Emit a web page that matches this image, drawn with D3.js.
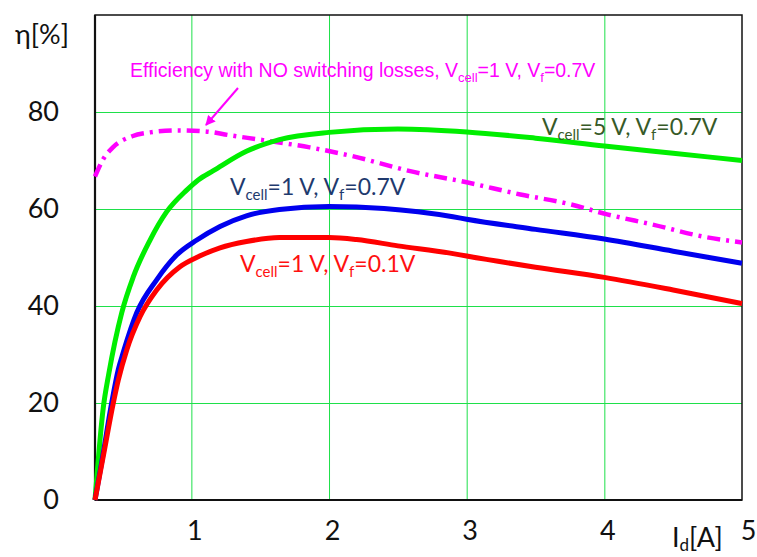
<!DOCTYPE html>
<html><head><meta charset="utf-8">
<script src="https://cdn.jsdelivr.net/npm/d3@7"></script>
<style>
body{margin:0;background:#fff;}
svg{display:block;}
</style></head>
<body>
<svg id="chart" width="757" height="557"></svg>
<script>
// ---- data ----
const xTicks = [1, 2, 3, 4, 5];
const yTicks = [0, 20, 40, 60, 80];
const gridX = [1, 2, 3, 4];
const gridY = [20, 40, 60, 80];

const greenX = [0.3,0.36,0.40,0.494,0.578,0.70,0.82,0.966,1.05,1.16,1.4,1.64,2.0,2.5,3.0,3.5,4.0,4.5,5.0];
const greenY = [0,19,26,38.6,46,53.6,59.4,63.9,66,67.9,71.9,74.3,75.8,76.5,75.9,74.6,73.0,71.5,70.0];

const blueX = [0.3,0.35,0.421,0.47,0.506,0.603,0.748,0.893,1.04,1.208,1.4,1.64,2.0,2.4,2.9,3.0,3.5,4.0,4.5,5.0];
const blueY = [0,8,20,27,30.5,38.6,45.4,50.5,53.6,56.4,58.6,59.9,60.5,60.1,58.4,57.9,55.8,53.8,51.3,48.8];

const redX = [0.3,0.36,0.433,0.469,0.53,0.627,0.748,0.917,1.06,1.208,1.4,1.64,2.0,2.2,2.5,2.88,3.0,3.5,4.0,4.5,5.0];
const redY = [0,9,20,24.7,30.9,37.8,43.3,48.1,50.3,52,53.3,54.1,54.1,53.7,52.4,50.9,50.3,48.0,45.9,43.3,40.5];

const magX = [0.3,0.358,0.43,0.57,0.7,0.9,1.1,1.28,1.52,1.86,2.17,2.59,3.0,3.39,3.75,4.02,4.35,4.72,5.0];
const magY = [66.7,70.2,72.7,75.0,75.8,76.2,76.0,75.2,74.2,72.7,70.9,67.8,65.5,63.0,61.0,58.9,56.8,54.3,53.1];

// ---- layout ----
const svg = d3.select("#chart");
const pLeft = 95, pRight = 742, pTop = 15, pBottom = 500;
const x = d3.scaleLinear().domain([0.3, 5]).range([pLeft, pRight]);
const y = d3.scaleLinear().domain([0, 100]).range([pBottom, pTop]);

const calibri = "Lato, 'Open Sans', sans-serif";
const arial = "'Liberation Sans', Arial, sans-serif";

// gridlines
svg.append("g").attr("transform", `translate(0,${pBottom})`)
  .call(d3.axisBottom(x).tickValues(gridX).tickSize(-(pBottom - pTop)).tickFormat(""))
  .call(g => g.select(".domain").remove())
  .call(g => g.selectAll("line").attr("stroke", "#1ee04a").attr("stroke-width", 1));
svg.append("g").attr("transform", `translate(${pLeft},0)`)
  .call(d3.axisLeft(y).tickValues(gridY).tickSize(-(pRight - pLeft)).tickFormat(""))
  .call(g => g.select(".domain").remove())
  .call(g => g.selectAll("line").attr("stroke", "#1ee04a").attr("stroke-width", 1));

// frame
svg.append("rect").attr("x", x(0.3)).attr("y", y(100))
  .attr("width", x(5) - x(0.3)).attr("height", y(0) - y(100))
  .attr("fill", "none").attr("stroke", "#111").attr("stroke-width", 1.5);
svg.append("line").attr("x1", x(0.3)).attr("x2", x(0.3)).attr("y1", y(100)).attr("y2", y(0))
  .attr("stroke", "#111").attr("stroke-width", 2.2);
svg.append("line").attr("x1", x(0.3)).attr("x2", x(5)).attr("y1", y(0)).attr("y2", y(0))
  .attr("stroke", "#111").attr("stroke-width", 2.2);

// tick labels
svg.append("g").attr("transform", `translate(${pLeft},0)`)
  .call(d3.axisLeft(y).tickValues(yTicks).tickSize(0).tickPadding(36).tickFormat(d3.format("d")))
  .call(g => g.select(".domain").remove())
  .call(g => g.selectAll("text").attr("font-family", calibri).attr("font-size", 27).attr("fill", "#111"));
svg.append("g").attr("transform", `translate(0,${pBottom})`)
  .call(d3.axisBottom(x).tickValues(xTicks).tickSize(0).tickPadding(21).tickFormat(d3.format("d")))
  .call(g => g.select(".domain").remove())
  .call(g => g.selectAll("text").attr("font-family", calibri).attr("font-size", 27).attr("fill", "#111")
      .attr("dx", d => d === 5 ? 6 : 3));

// axis titles
svg.append("text").attr("x", 15).attr("y", 44).attr("font-family", calibri).attr("font-size", 27)
  .attr("fill", "#111").text("η[%]");
const idT = svg.append("text").attr("x", 672).attr("y", 547).attr("font-family", calibri)
  .attr("font-size", 27).attr("fill", "#111");
idT.append("tspan").text("I");
idT.append("tspan").attr("font-size", 17).attr("dy", 4).text("d");
idT.append("tspan").attr("dy", -4).text("[A]");

// lines
const line = d3.line().x(d => x(d[0])).y(d => y(d[1])).curve(d3.curveMonotoneX);
const zip = (a, b) => a.map((v, i) => [v, b[i]]);

svg.append("path").datum(zip(magX, magY)).attr("d", line).attr("fill", "none")
  .attr("stroke", "#ff00ff").attr("stroke-width", 4.5).attr("stroke-dasharray", "13,6,3,6")
  .attr("stroke-linecap", "butt");
svg.append("path").datum(zip(greenX, greenY)).attr("d", line).attr("fill", "none")
  .attr("stroke", "#00ee00").attr("stroke-width", 5);
svg.append("path").datum(zip(blueX, blueY)).attr("d", line).attr("fill", "none")
  .attr("stroke", "#0000ee").attr("stroke-width", 5);
svg.append("path").datum(zip(redX, redY)).attr("d", line).attr("fill", "none")
  .attr("stroke", "#ff0000").attr("stroke-width", 5);

// labels with subscripts
function label(xp, yp, color, font, size, pre, vf) {
  const t = svg.append("text").attr("x", xp).attr("y", yp).attr("font-family", font)
    .attr("font-size", size).attr("fill", color);
  const sub = Math.round(size * 0.65);
  const dy = Math.round(size * 0.22);
  t.append("tspan").text("V");
  t.append("tspan").attr("font-size", sub).attr("dy", dy).text("cell");
  t.append("tspan").attr("dy", -dy).text(pre + ", V");
  t.append("tspan").attr("font-size", sub).attr("dy", dy).text("f");
  t.append("tspan").attr("dy", -dy).text("=" + vf);
  return t;
}

const mt = svg.append("text").attr("x", 130).attr("y", 77).attr("font-family", arial)
  .attr("font-size", 19.5).attr("fill", "#ff00ff");
mt.append("tspan").text("Efficiency with NO switching losses, V");
mt.append("tspan").attr("font-size", 13).attr("dy", 5).text("cell");
mt.append("tspan").attr("dy", -5).text("=1 V, V");
mt.append("tspan").attr("font-size", 13).attr("dy", 5).text("f");
mt.append("tspan").attr("dy", -5).text("=0.7V");

label(542, 135, "#375a28", calibri, 23, "=5 V", "0.7V");
label(230, 195, "#1f3a6e", calibri, 23, "=1 V", "0.7V");
label(240, 272, "#ff1010", calibri, 23, "=1 V", "0.1V");

// arrow
svg.append("defs").append("marker").attr("id", "ah").attr("viewBox", "0 0 10 10")
  .attr("refX", 9).attr("refY", 5).attr("markerWidth", 5).attr("markerHeight", 5)
  .attr("orient", "auto").append("path").attr("d", "M0,0 L10,5 L0,10 z").attr("fill", "#ff00ff");
svg.append("line").attr("x1", 238).attr("y1", 88).attr("x2", 206).attr("y2", 125)
  .attr("stroke", "#ff00ff").attr("stroke-width", 2).attr("marker-end", "url(#ah)");
</script>
</body></html>
